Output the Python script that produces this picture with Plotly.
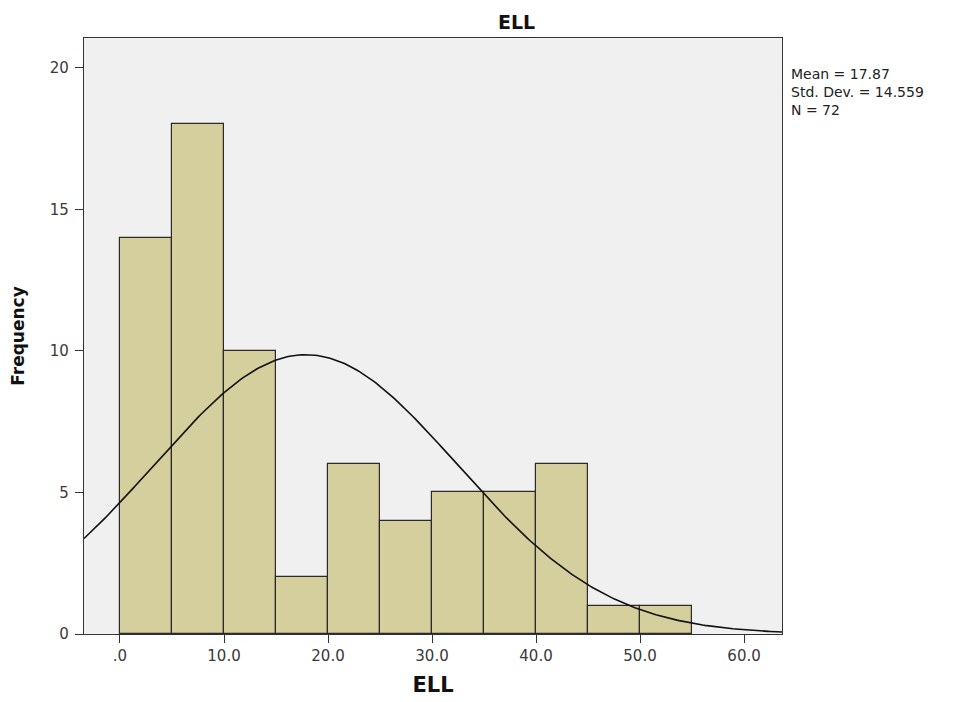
import numpy as np
import plotly.graph_objects as go

# Data
bin_starts = [0, 5, 10, 15, 20, 25, 30, 35, 40, 45, 50]
bin_width = 5
frequencies = [14, 18, 10, 2, 6, 4, 5, 5, 6, 1, 1]
mean_val = 17.87
std_val = 14.559
n_val = 72
x_tick_vals = [0, 10, 20, 30, 40, 50, 60]
x_tick_text = [".0", "10.0", "20.0", "30.0", "40.0", "50.0", "60.0"]
y_tick_vals = [0, 5, 10, 15, 20]

x_range = [-3.46, 63.65]
y_range = [0, 21.05]

centers = [s + bin_width / 2 for s in bin_starts]

xc = np.linspace(x_range[0], x_range[1], 300)
yc = n_val * bin_width / (std_val * np.sqrt(2 * np.pi)) * np.exp(-0.5 * ((xc - mean_val) / std_val) ** 2)

fig = go.Figure()
fig.add_trace(go.Bar(
    x=centers, y=frequencies, width=bin_width,
    marker=dict(color="#d4cf9c", line=dict(color="#2a2a2a", width=1.2)),
    hoverinfo="x+y", showlegend=False,
))
fig.add_trace(go.Scatter(
    x=xc, y=yc, mode="lines", line=dict(color="#111111", width=1.6),
    showlegend=False, hoverinfo="skip",
))

font_family = "DejaVu Sans, Verdana, sans-serif"

fig.update_layout(
    width=967, height=702,
    margin=dict(l=76, r=193, t=30, b=76),
    paper_bgcolor="white",
    plot_bgcolor="#f0f0f0",
    bargap=0,
    font=dict(family=font_family, size=15, color="#3a3a3a"),
    showlegend=False,
)
fig.update_xaxes(
    range=x_range, tickvals=x_tick_vals, ticktext=x_tick_text,
    ticks="outside", ticklen=8, tickcolor="#333333", tickwidth=1.2,
    ticklabelstandoff=0,
    showline=True, linecolor="#333333", linewidth=1.2, mirror=True,
    showgrid=False, zeroline=False, automargin=False,
    tickfont=dict(size=15, color="#3a3a3a"),
    title=dict(text="<b>ELL</b>", font=dict(size=21, color="#111111"), standoff=13),
)
fig.update_yaxes(
    range=y_range, tickvals=y_tick_vals,
    ticks="outside", ticklen=8, tickcolor="#333333", tickwidth=1.2,
    ticklabelstandoff=3,
    showline=True, linecolor="#333333", linewidth=1.2, mirror=True,
    showgrid=False, zeroline=False, automargin=False,
    tickfont=dict(size=15, color="#3a3a3a"),
    title=dict(text="<b>Frequency</b>", font=dict(size=17, color="#111111"), standoff=20),
)

fig.add_annotation(
    text="<b>ELL</b>", xref="paper", yref="paper", x=(516 - 84) / (782 - 84), y=1,
    yshift=16, showarrow=False, font=dict(size=19, color="#111111"),
    xanchor="center", yanchor="middle",
)
stats_text = f"Mean = {mean_val}<br>Std. Dev. = {std_val}<br>N = {n_val}"
fig.add_annotation(
    text=stats_text, xref="paper", yref="paper",
    x=1, xshift=7, y=1, yshift=-26,
    showarrow=False, xanchor="left", yanchor="top", align="left",
    font=dict(size=14, color="#222222"),
)

fig.write_html("out.html")
